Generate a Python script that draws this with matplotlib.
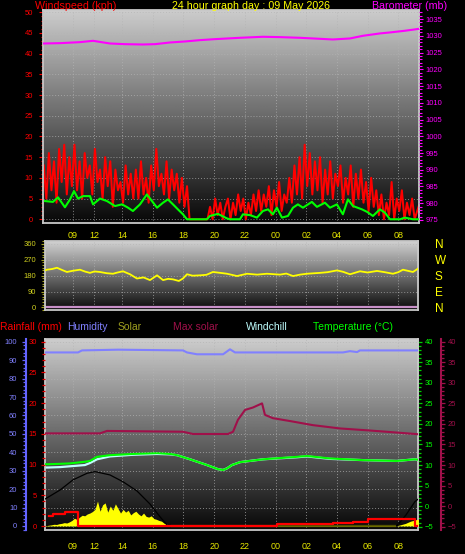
"""
24 hour weather station graph (wind / direction / temperature panels).
"""

import numpy as np
import matplotlib
matplotlib.use("Agg")
import matplotlib.pyplot as plt
from matplotlib.ticker import MultipleLocator

plt.rcParams["font.family"] = ["Liberation Sans", "DejaVu Sans"]

W, H = 465, 554

# ── time axis (hours, >24 = next day) ─────────────────────────────────────────
TICK_HOURS  = [10.8, 12.2, 14, 16, 18, 20, 22, 24, 26, 28, 30, 32]
TICK_LABELS = ["09", "12", "14", "16", "18", "20", "22", "00", "02", "04", "06", "08"]

# ── windspeed (kph), gusts every 10 minutes from 08:54 ────────────────────────
GUST_START, GUST_STEP = 8.9, 1 / 6
gust = [13, 5, 16, 7, 14, 4, 17, 9, 18, 6, 15, 8,
        18, 7, 14, 5, 16, 10, 13, 6, 17, 9, 12, 5,
        15, 8, 14, 3, 12, 7, 9, 4, 13, 6, 11, 5,
        12, 5, 14, 6, 10, 4, 13, 7, 17, 8, 11, 6,
        14, 5, 12, 7, 11, 4, 10, 3, 8, 0, 0, 0,
        0, 0, 0, 0, 0, 3, 0, 5, 1, 4, 0, 3,
        5, 0, 4, 1, 6, 2, 5, 0, 4, 1, 6, 2,
        7, 2, 6, 3, 8, 1, 7, 3, 9, 2, 6, 4,
        10, 4, 13, 6, 15, 5, 18, 8, 16, 6, 14, 7,
        15, 4, 12, 6, 14, 5, 11, 8, 13, 4, 10, 6,
        13, 3, 11, 5, 12, 4, 9, 2, 10, 3, 7, 1,
        6, 0, 4, 1, 9, 0, 5, 2, 7, 0, 4, 1,
        5, 0, 2, 4]

wind_avg_t = [8.98, 9.50, 9.83, 10.28, 10.61, 10.87, 11.13, 11.46, 11.91, 12.11,
              12.56, 13.02, 13.54, 14.0, 14.39, 14.71, 15.17, 15.62, 15.95, 16.28,
              16.67, 16.99, 17.32, 17.64, 17.97, 18.23, 18.75, 19.53, 19.73, 20.25,
              20.84, 21.03, 21.68, 21.88, 22.34, 22.79, 23.18, 23.51, 23.83, 24.09,
              24.42, 24.81, 25.14, 25.46, 25.79, 26.37, 26.70, 27.22, 27.55, 28.0,
              28.39, 28.72, 29.05, 29.63, 29.96, 30.35, 30.80, 31.13, 31.46, 32.11,
              32.43, 32.95, 33.30]
wind_avg   = [4.4, 4.2, 5.3, 2.9, 4.8, 6.8, 5.0, 5.6, 5.6, 3.6,
              5.0, 4.4, 3.2, 3.6, 2.8, 2.0, 3.6, 6.0, 4.4, 2.8,
              4.0, 4.8, 3.6, 2.4, 1.2, 0.0, 0.0, 0.0, 0.8, 1.3,
              0.2, 0.0, 0.0, 1.2, 1.0, 0.4, 2.0, 2.4, 1.2, 2.8,
              0.4, 0.8, 2.8, 3.6, 2.8, 4.2, 3.0, 4.0, 2.8, 3.6,
              1.2, 4.8, 3.2, 2.4, 1.8, 0.8, 2.4, 1.6, 0.0, 0.0,
              0.4, 0.0, 0.0]

# ── barometer (mb) ────────────────────────────────────────────────────────────
baro_t = [8.85, 9.96, 11.26, 12.11, 13.21, 14.19, 15.36, 16.15, 17.12, 18.1,
          19.08, 20.06, 21.68, 23.18, 24.29, 25.59, 27.74, 28.85, 29.7, 30.8,
          31.46, 32.43, 33.08, 33.35]
baro   = [1027.7, 1027.8, 1028.1, 1028.5, 1027.7, 1027.5, 1027.4, 1027.5, 1028.0, 1028.3,
          1028.7, 1029.0, 1029.4, 1029.7, 1029.6, 1029.4, 1028.9, 1029.2, 1030.0, 1030.7,
          1031.0, 1031.5, 1031.9, 1032.1]

# ── wind direction (degrees) ──────────────────────────────────────────────────
dir_t    = [8.98, 9.11, 9.45, 9.76, 10.1, 10.41, 10.8, 11.26, 11.6, 11.91, 12.2, 12.56,
            13.0, 13.41, 13.7, 14.06, 14.3, 14.52, 14.97, 15.4, 15.82, 16.28, 16.67,
            17.0, 17.32, 17.7, 17.97, 18.23, 18.6, 19.08, 19.5, 19.92, 20.4, 20.84,
            21.49, 22.14, 22.8, 23.44, 24.29, 24.7, 25.14, 25.6, 26.05, 26.9, 27.4,
            28.0, 28.4, 28.85, 29.5, 30.0, 30.61, 31.1, 31.65, 32.0, 32.3, 32.95, 33.28]
wind_dir = [210, 214, 218, 225, 212, 201, 208, 214, 203, 196, 204, 201,
            194, 191, 198, 205, 196, 188, 164, 170, 155, 182, 155,
            162, 159, 150, 164, 188, 180, 182, 185, 201, 196, 191,
            178, 191, 186, 191, 186, 192, 178, 186, 191, 196, 200,
            210, 202, 188, 205, 198, 207, 200, 191, 200, 214, 201, 220]

# ── bottom panel ──────────────────────────────────────────────────────────────
temp_t    = [8.98, 9.18, 9.96, 10.61, 11.58, 11.91, 12.37, 13.21, 14.71, 16.28, 17.12,
             17.58, 18.43, 19.53, 20.25, 20.58, 20.84, 21.16, 21.68, 23.18, 25.4,
             26.05, 27.55, 29.7, 31.91, 33.08, 33.28]
temp      = [10.2, 10.2, 10.3, 10.4, 10.8, 11.0, 12.0, 12.4, 12.7, 12.9, 12.7,
             12.4, 11.4, 10.0, 9.0, 8.8, 9.2, 10.0, 10.7, 11.4, 12.0,
             12.2, 11.6, 11.2, 11.0, 11.4, 11.3]
windchill = [9.4, 9.4, 9.5, 9.7, 10.0, 10.5, 11.4, 12.1, 12.5, 12.7, 12.6,
             12.4, 11.4, 10.0, 9.0, 8.8, 9.2, 10.0, 10.7, 11.4, 11.9,
             12.1, 11.5, 11.2, 11.0, 11.4, 11.3]

hum_t    = [8.98, 11.13, 11.39, 13.74, 17.97, 18.23, 18.88, 20.58, 21.03, 21.36,
            28.39, 28.85, 29.31, 29.5, 33.28]
humidity = [94.2, 94.2, 95.3, 95.7, 95.3, 94.2, 93.2, 93.2, 95.9, 94.2,
            94.2, 94.9, 94.4, 95.3, 95.3]

rain_t = [9.25, 9.5, 10.3, 11.11, 24.1, 27.74, 29.05, 30.0, 33.08, 33.3]
rain   = [1.6, 2.0, 2.2, 0.0, 0.3, 0.45, 0.7, 1.1, 0.0, 0.0]

crimson_t = [8.98, 12.56, 13.02, 17.97, 18.62, 20.9, 21.23, 21.55, 22.01, 22.53,
             23.12, 23.31, 23.83, 24.94, 26.44, 28.2, 30.15, 31.91, 33.28]
crimson   = [17.7, 17.7, 18.3, 18.1, 17.55, 17.55, 18.1, 21.0, 23.4, 24.0,
             25.0, 22.2, 21.4, 20.7, 19.7, 18.9, 18.4, 17.9, 17.5]

maxsolar_t = [8.98, 9.96, 10.80, 11.72, 12.24, 13.21, 14.06, 14.97, 15.82, 16.47,
              16.93, 17.12, 31.91, 32.5, 33.08, 33.28]
maxsolar   = [146, 195, 250, 286, 295, 277, 240, 190, 119, 50,
              5, 0, 0, 60, 132, 145]

SOLAR_START, SOLAR_STEP = 8.9, 1 / 6
solar_am = [0, 2, 4, 6, 9, 8, 12, 14, 18, 16, 22, 30, 42, 35, 48, 58, 55, 65, 70, 78,
            90, 135, 80, 115, 125, 75, 108, 85, 120, 95, 70, 90, 75, 85, 60, 72, 80,
            65, 55, 70, 52, 48, 55, 40, 36, 30, 26, 15, 10, 4, 0]
solar_pm_t = [31.8, 31.97, 32.13, 32.3, 32.47, 32.63, 32.8, 32.97, 33.13, 33.3]
solar_pm   = [0, 3, 6, 10, 14, 20, 26, 30, 34, 36]

# ── colours ───────────────────────────────────────────────────────────────────
RED, MAGENTA, GREEN, YELLOW = "#ff0000", "#ff00ff", "#00ff00", "#ffff00"
HUM_BLUE, CRIMSON, CYAN, OLIVE = "#8080ff", "#a0104a", "#c0ffff", "#a0a020"
FRAME = "#c8c8c8"


def px_axes(fig, left, top, right, bottom):
    return fig.add_axes([left / W, 1 - bottom / H, (right - left) / W, (bottom - top) / H])


def gradient_bg(ax, top=0.80, bottom=0.03):
    g = np.linspace(top, bottom, 256)[:, None]
    ax.imshow(g, cmap="gray", vmin=0, vmax=1, aspect="auto", extent=(0, 1, 0, 1),
              transform=ax.transAxes, zorder=0, interpolation="bilinear")


def frame(ax):
    for s in ax.spines.values():
        s.set_color(FRAME)
        s.set_linewidth(1.3)


def hide_spines(ax):
    for s in ax.spines.values():
        s.set_visible(False)


def grid(ax):
    ax.grid(True, which="major", color="#b4b4b4", ls=(0, (1, 2)), lw=0.7, alpha=0.7)


def time_ticks(ax, labels=True, pad=6):
    ax.set_xticks(TICK_HOURS)
    ax.set_xticklabels(TICK_LABELS if labels else [])
    ax.tick_params(axis="x", length=0, pad=pad, labelsize=6.5, labelcolor="#e8e800")


fig = plt.figure(figsize=(W / 100, H / 100), dpi=100, facecolor="black")

# ── top: windspeed + barometer ────────────────────────────────────────────────
ax1 = px_axes(fig, 43, 10, 419, 223)
gradient_bg(ax1)
ax1.plot(GUST_START + np.arange(len(gust)) * GUST_STEP, gust, color=RED, lw=1.45, zorder=2)
ax1.plot(wind_avg_t, wind_avg, color=GREEN, lw=1.5, zorder=3)
ax1.set_xlim(8.85, 33.35)
ax1.set_ylim(-0.9, 50.55)
ax1.yaxis.set_major_locator(MultipleLocator(5))
ax1.yaxis.set_minor_locator(MultipleLocator(1))
ax1.tick_params(axis="y", which="both", colors=RED, labelsize=5.5, width=0.8, pad=4)
ax1.tick_params(axis="y", which="major", length=3)
ax1.tick_params(axis="y", which="minor", length=1.8)
time_ticks(ax1, pad=6)
grid(ax1)
frame(ax1)

ax1b = ax1.twinx()
ax1b.plot(baro_t, baro, color=MAGENTA, lw=1.5)
ax1b.set_ylim(974.1, 1037.7)
ax1b.yaxis.set_major_locator(MultipleLocator(5))
ax1b.yaxis.set_minor_locator(MultipleLocator(1))
ax1b.tick_params(axis="y", which="both", colors=MAGENTA, labelsize=5.5, width=0.8, pad=2)
ax1b.tick_params(axis="y", which="major", length=3)
ax1b.tick_params(axis="y", which="minor", length=1.8)
hide_spines(ax1b)

fig.text(35 / W, 1 - 6 / H, "Windspeed (kph)", color=RED, fontsize=7.7, va="center")
fig.text(172 / W, 1 - 6 / H, "24 hour graph day : 09 May 2026", color=YELLOW,
         fontsize=7.7, va="center")
fig.text(372 / W, 1 - 6 / H, "Barometer (mb)", color=MAGENTA, fontsize=7.7, va="center")

# ── middle: wind direction ────────────────────────────────────────────────────
ax2 = px_axes(fig, 45, 241, 418, 310)
gradient_bg(ax2, 0.82, 0.04)
ax2.axhline(0, color="#c890c8", lw=1.6, zorder=2)
ax2.plot(dir_t, wind_dir, color=YELLOW, lw=1.3, zorder=3)
ax2.set_xlim(8.98, 33.28)
ax2.set_ylim(-15, 377)
ax2.set_yticks([0, 90, 180, 270, 360])
ax2.yaxis.set_minor_locator(MultipleLocator(15))
ax2.tick_params(axis="y", which="both", colors=OLIVE, labelsize=5.5, width=0.8, pad=3.5)
ax2.tick_params(axis="y", which="major", length=3)
ax2.tick_params(axis="y", which="minor", length=2)
ax2.tick_params(axis="y", labelcolor="#d0d020")
time_ticks(ax2, labels=False)
grid(ax2)
frame(ax2)

ax2b = ax2.twinx()
ax2b.set_ylim(ax2.get_ylim())
ax2b.set_yticks([360, 270, 180, 90, 0])
ax2b.set_yticklabels(["N", "W", "S", "E", "N"])
ax2b.tick_params(axis="y", length=0, pad=12, labelsize=8.5, labelcolor=YELLOW)
hide_spines(ax2b)

# ── bottom: temperature, humidity, solar, rain ────────────────────────────────
ax3 = px_axes(fig, 45, 339, 418, 530)
gradient_bg(ax3)
ax3.plot(temp_t, windchill, color=CYAN, lw=1.6, zorder=2)
ax3.plot(temp_t, temp, color=GREEN, lw=1.5, zorder=3)
ax3.set_xlim(8.98, 33.28)
ax3.set_ylim(-5.8, 40.66)
time_ticks(ax3, pad=8.5)
ax3.grid(True, axis="x", color="#b4b4b4", ls=(0, (1, 2)), lw=0.7, alpha=0.7)
frame(ax3)

ax_h = ax3.twinx()
ax_h.plot(hum_t, humidity, color=HUM_BLUE, lw=1.5)
ax_h.set_ylim(-2.2, 101.5)
ax_h.yaxis.tick_left()
ax_h.yaxis.set_major_locator(MultipleLocator(10))
ax_h.yaxis.set_minor_locator(MultipleLocator(2))
ax_h.tick_params(axis="y", which="both", colors="#6464ff", labelcolor=HUM_BLUE,
                 labelsize=5.5, width=0.9, pad=3)
ax_h.tick_params(axis="y", which="major", length=3.2)
ax_h.tick_params(axis="y", which="minor", length=2)
ax_h.grid(True, axis="y", color="#b4b4b4", ls=(0, (1, 2)), lw=0.7, alpha=0.7)
hide_spines(ax_h)
ax_h.spines["left"].set_visible(True)
ax_h.spines["left"].set_position(("outward", 13.7))
ax_h.spines["left"].set_color("#6464ff")
ax_h.spines["left"].set_linewidth(1.5)

ax_s = ax3.twinx()
ax_s.fill_between(SOLAR_START + np.arange(len(solar_am)) * SOLAR_STEP, solar_am,
                  color=YELLOW, lw=0)
ax_s.fill_between(solar_pm_t, solar_pm, color=YELLOW, lw=0)
ax_s.plot([SOLAR_START + (len(solar_am) - 1) * SOLAR_STEP, solar_pm_t[0]], [0, 0],
          color=YELLOW, lw=1.5)
ax_s.plot(maxsolar_t, maxsolar, color="black", lw=0.9)
ax_s.set_ylim(-22, 1015)
ax_s.set_yticks([])
hide_spines(ax_s)

ax_c = ax3.twinx()
ax_c.plot(crimson_t, crimson, color=CRIMSON, lw=1.5)
ax_c.set_ylim(ax3.get_ylim())
ax_c.yaxis.set_major_locator(MultipleLocator(5))
ax_c.yaxis.set_minor_locator(MultipleLocator(1))
ax_c.tick_params(axis="y", which="both", colors=CRIMSON, labelsize=5.5, width=0.9, pad=2)
ax_c.tick_params(axis="y", which="major", length=3)
ax_c.tick_params(axis="y", which="minor", length=2)
hide_spines(ax_c)
ax_c.spines["right"].set_visible(True)
ax_c.spines["right"].set_position(("outward", 16.5))
ax_c.spines["right"].set_color(CRIMSON)
ax_c.spines["right"].set_linewidth(1.5)

ax_r = ax3.twinx()
ax_r.plot(rain_t, rain, color=RED, lw=1.6, drawstyle="steps-post")
ax_r.set_ylim(-0.65, 30.44)
ax_r.yaxis.tick_left()
ax_r.yaxis.set_major_locator(MultipleLocator(5))
ax_r.yaxis.set_minor_locator(MultipleLocator(1))
ax_r.tick_params(axis="y", which="both", colors="#e00000", labelcolor=RED,
                 labelsize=5.5, width=0.9, pad=3)
ax_r.tick_params(axis="y", which="major", length=3)
ax_r.tick_params(axis="y", which="minor", length=2)
hide_spines(ax_r)

# twinx() moves the base axis ticks to the left, so set the temperature side last
ax3.yaxis.tick_right()
ax3.yaxis.set_major_locator(MultipleLocator(5))
ax3.yaxis.set_minor_locator(MultipleLocator(1))
ax3.tick_params(axis="y", which="both", colors="#00d000", labelcolor=GREEN,
                labelsize=5.5, width=0.9, pad=2)
ax3.tick_params(axis="y", which="major", length=3)
ax3.tick_params(axis="y", which="minor", length=2)

legend_row = [("Rainfall (mm)", 0, RED), ("Humidity", 67, HUM_BLUE), ("Solar", 118, OLIVE),
              ("Max solar", 173, CRIMSON), ("Windchill", 246, CYAN),
              ("Temperature (\u00b0C)", 313, GREEN)]
for text, x, c in legend_row:
    fig.text(x / W, 1 - 327 / H, text, color=c, fontsize=7.5, va="center")

fig.savefig("out.png", dpi=100, facecolor=fig.get_facecolor())
